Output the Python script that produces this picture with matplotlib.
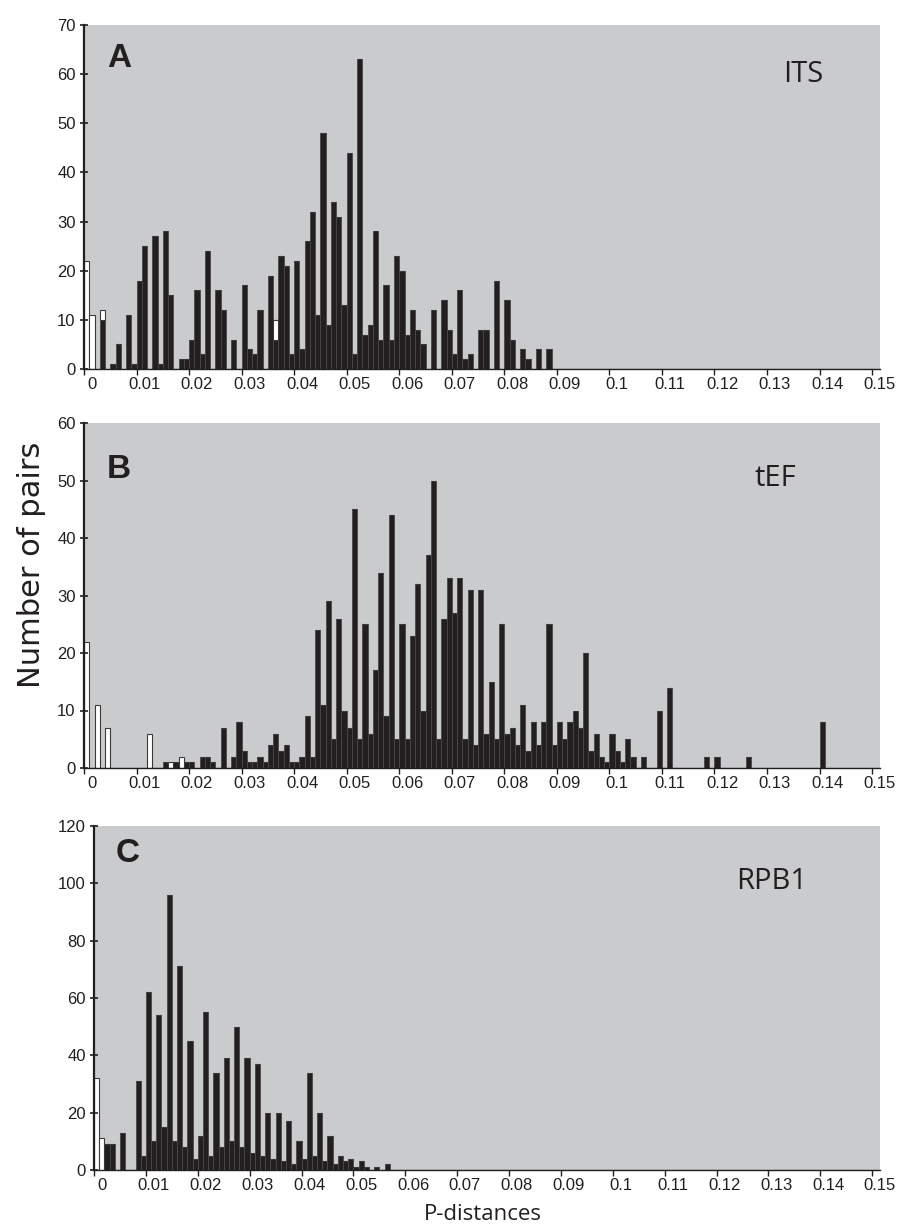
import numpy as np
import matplotlib.pyplot as plt

# p-distance bins, 0.001 wide (0.000 ... 0.150)
bins = np.round(np.arange(151) * 0.001, 3)

# ITS: counts per bin, starting at bin 0
its_black = [0, 0, 0, 10, 0, 1, 5, 0, 11, 1,
             18, 25, 0, 27, 1, 28, 15, 0, 2, 2,
             6, 16, 3, 24, 0, 16, 12, 0, 6, 0,
             17, 4, 3, 12, 0, 19, 6, 23, 21, 3,
             22, 4, 26, 32, 11, 48, 9, 34, 31, 13,
             44, 3, 63, 7, 9, 28, 6, 17, 6, 23,
             20, 7, 12, 8, 5, 0, 12, 0, 14, 8,
             3, 16, 2, 3, 0, 8, 8, 0, 18, 0,
             14, 6, 0, 4, 2, 0, 4, 0, 4]
its_white = {0: 22, 1: 11, 3: 2, 36: 4}

# tEF
tef_black = {15: 1, 17: 1, 19: 1, 20: 1, 22: 2, 23: 2, 24: 1, 26: 7, 28: 2, 29: 8,
             30: 3, 31: 1, 32: 1, 33: 2, 34: 1, 35: 4, 36: 6, 37: 3, 38: 4, 39: 1,
             40: 1, 41: 2, 42: 9, 43: 2, 44: 24, 45: 11, 46: 29, 47: 5, 48: 26, 49: 10,
             50: 7, 51: 45, 52: 5, 53: 25, 54: 6, 55: 17, 56: 34, 57: 9, 58: 44, 59: 5,
             60: 25, 61: 5, 62: 23, 63: 32, 64: 10, 65: 37, 66: 50, 67: 5, 68: 26, 69: 33,
             70: 27, 71: 33, 72: 5, 73: 31, 74: 4, 75: 31, 76: 6, 77: 15, 78: 5, 79: 25,
             80: 6, 81: 7, 82: 4, 83: 11, 84: 3, 85: 8, 86: 4, 87: 8, 88: 25, 89: 4,
             90: 8, 91: 5, 92: 8, 93: 10, 94: 7, 95: 20, 96: 3, 97: 6, 98: 2, 99: 1,
             100: 6, 101: 3, 102: 1, 103: 5, 104: 2, 106: 2, 109: 10, 111: 14,
             118: 2, 120: 2, 126: 2, 140: 8}
tef_white = {0: 22, 2: 11, 4: 7, 12: 6, 16: 1, 18: 2}

# RPB1
rpb_black = {2: 9, 3: 9, 5: 13, 8: 31, 9: 5, 10: 62, 11: 10, 12: 54, 13: 15, 14: 96,
             15: 10, 16: 71, 17: 8, 18: 45, 19: 4, 20: 12, 21: 55, 22: 5, 23: 34, 24: 8,
             25: 39, 26: 10, 27: 50, 28: 8, 29: 39, 30: 6, 31: 37, 32: 5, 33: 20, 34: 4,
             35: 20, 36: 3, 37: 17, 38: 2, 39: 10, 40: 4, 41: 34, 42: 5, 43: 20, 44: 3,
             45: 12, 46: 2, 47: 5, 48: 3, 49: 4, 50: 1, 51: 3, 52: 1, 54: 1, 56: 2}
rpb_white = {0: 32, 1: 11}

genes = ['ITS', 'tEF', 'RPB1']
letters = ['A', 'B', 'C']
ymax = [70, 60, 120]
ystep = [10, 10, 20]
xticks = np.round(np.arange(0, 0.151, 0.01), 2)
xlabels = ['0'] + ['%g' % t for t in xticks[1:]]


def to_array(d):
    arr = np.zeros(len(bins))
    if isinstance(d, dict):
        for k, v in d.items():
            arr[k] = v
    else:
        arr[:len(d)] = d
    return arr


W, H = 904, 1232
fig = plt.figure(figsize=(W / 100, H / 100), dpi=100)
boxes = [(84, 25, 880, 369), (84, 423, 880, 768), (94, 826, 880, 1170)]
label_pos = [(0.029, 0.904), (0.029, 0.864), (0.027, 0.921)]
gene_pos = [(0.903, 0.855), (0.869, 0.838), (0.862, 0.84)]
data = [(its_black, its_white), (tef_black, tef_white), (rpb_black, rpb_white)]

tick_font = {'family': 'Liberation Sans', 'size': 12}

for i, (l, t, r, b) in enumerate(boxes):
    ax = fig.add_axes([l / W, 1 - b / H, (r - l) / W, (b - t) / H])
    ax.set_facecolor('#cacbcd')
    black = to_array(data[i][0])
    white = to_array(data[i][1])
    ax.bar(bins, black, width=0.001, align='edge', color='#231f20',
           edgecolor='#4a4748', linewidth=0.6)
    ax.bar(bins, white, width=0.001, align='edge', bottom=black, color='white',
           edgecolor='#3a3a3a', linewidth=0.8)
    ax.set_xlim(0, 0.151)
    ax.set_ylim(0, ymax[i])
    ax.set_yticks(np.arange(0, ymax[i] + 1, ystep[i]))
    ax.set_yticklabels([str(v) for v in range(0, ymax[i] + 1, ystep[i])], fontdict=tick_font)
    # tick marks on bin boundaries, labels sit a little to the right of them
    ax.set_xticks(xticks)
    ax.set_xticklabels([])
    ax.set_xticks(xticks + 0.0015, minor=True)
    ax.set_xticklabels(xlabels, minor=True, fontdict=tick_font)
    ax.tick_params(axis='y', direction='inout', length=6, width=1.2, pad=3, colors='#231f20')
    ax.tick_params(axis='x', which='major', direction='out', length=4, width=1.0,
                   colors='#231f20')
    ax.tick_params(axis='x', which='minor', length=0, pad=6, colors='#231f20')
    for s in ['top', 'right']:
        ax.spines[s].set_visible(False)
    for s in ['left', 'bottom']:
        ax.spines[s].set_color('#231f20')
    ax.spines['left'].set_linewidth(1.6)
    ax.spines['bottom'].set_linewidth(1.0)
    ax.text(label_pos[i][0], label_pos[i][1], letters[i], transform=ax.transAxes,
            fontsize=24, fontweight='bold', family='Liberation Sans', color='#231f20',
            ha='left', va='center')
    ax.text(gene_pos[i][0], gene_pos[i][1], genes[i], transform=ax.transAxes,
            fontsize=21, family='Open Sans', color='#231f20', ha='center', va='center')

fig.text(32 / W, 1 - 565 / H, 'Number of pairs', rotation=90, fontsize=22,
         family='DejaVu Sans', color='#231f20', ha='center', va='center')
fig.text(483 / W, 1 - 1215 / H, 'P-distances', fontsize=16, family='Open Sans',
         color='#231f20', ha='center', va='center')

fig.savefig('out.png', dpi=100)
